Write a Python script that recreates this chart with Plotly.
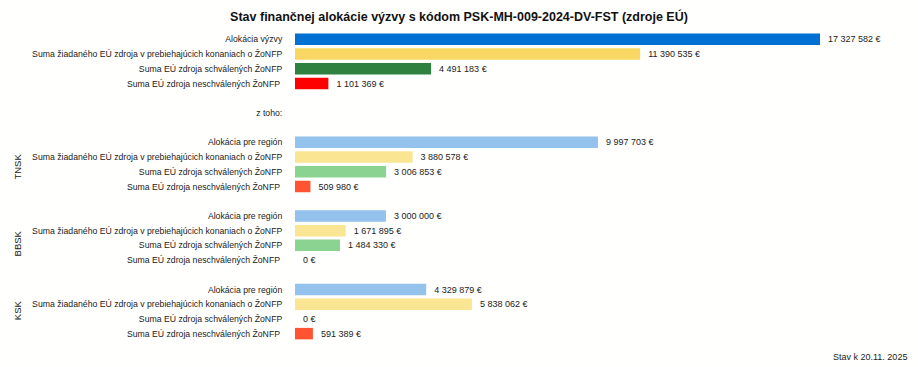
import plotly.graph_objects as go

title = "Stav finančnej alokácie výzvy s kódom PSK-MH-009-2024-DV-FST (zdroje EÚ)"

labels = [
    "Alokácia výzvy",
    "Suma žiadaného EÚ zdroja v prebiehajúcich konaniach o ŽoNFP",
    "Suma EÚ zdroja schválených ŽoNFP",
    "Suma EÚ zdroja neschválených ŽoNFP ",
    "",
    "z toho:",
    " ",
    "Alokácia pre región",
    "Suma žiadaného EÚ zdroja v prebiehajúcich konaniach o ŽoNFP",
    "Suma EÚ zdroja schválených ŽoNFP",
    "Suma EÚ zdroja neschválených ŽoNFP ",
    "  ",
    "Alokácia pre región",
    "Suma žiadaného EÚ zdroja v prebiehajúcich konaniach o ŽoNFP",
    "Suma EÚ zdroja schválených ŽoNFP",
    "Suma EÚ zdroja neschválených ŽoNFP ",
    "   ",
    "Alokácia pre región",
    "Suma žiadaného EÚ zdroja v prebiehajúcich konaniach o ŽoNFP",
    "Suma EÚ zdroja schválených ŽoNFP",
    "Suma EÚ zdroja neschválených ŽoNFP ",
]

values = [
    17327582, 11390535, 4491183, 1101369,
    None, None, None,
    9997703, 3880578, 3006853, 509980,
    None,
    3000000, 1671895, 1484330, 0,
    None,
    4329879, 5838062, 0, 591389,
]

colors = [
    "#0071d3", "#f8d862", "#2f8140", "#ff0000",
    "#ffffff", "#ffffff", "#ffffff",
    "#93c2ec", "#fae593", "#8bd391", "#ff5331",
    "#ffffff",
    "#93c2ec", "#fae593", "#8bd391", "#ff5331",
    "#ffffff",
    "#93c2ec", "#fae593", "#8bd391", "#ff5331",
]

regions = ["TNSK", "BBSK", "KSK"]
region_pos = [8.68, 13.9, 18.44]
footnote = "Stav k 20.11. 2025"


def fmt(v):
    if v is None:
        return ""
    return "  " + f"{v:,}".replace(",", " ") + " €"


FONT = "Liberation Sans, Arial, sans-serif"
rows = list(range(len(labels)))

fig = go.Figure()
fig.add_trace(go.Bar(
    y=rows,
    x=values,
    orientation="h",
    marker=dict(color=colors, line=dict(width=0)),
    text=[fmt(v) for v in values],
    textposition="outside",
    textfont=dict(family=FONT, size=9, color="#222222"),
    cliponaxis=False,
    hoverinfo="skip",
))

for r, p in zip(regions, region_pos):
    fig.add_annotation(
        x=0, xref="paper", xshift=-285, y=p, yref="y",
        text=r, textangle=-90, showarrow=False,
        font=dict(family=FONT, size=9.5, color="#222222"),
    )

fig.add_annotation(
    x=1, xref="paper", xanchor="right", xshift=8,
    y=0, yref="paper", yanchor="top", yshift=-9,
    text=footnote, showarrow=False,
    font=dict(family=FONT, size=9, color="#222222"),
)

fig.update_layout(
    width=918, height=367,
    margin=dict(l=295, r=17, t=32, b=26, autoexpand=False),
    paper_bgcolor="#fffffd",
    plot_bgcolor="#fffffd",
    bargap=0.22,
    showlegend=False,
    title=dict(
        text="<b>" + title + "</b>",
        x=0.5, xanchor="center", y=0.955, yanchor="middle",
        font=dict(family=FONT, size=12.5, color="#111111"),
    ),
    xaxis=dict(range=[0, 20000000], visible=False),
    yaxis=dict(
        tickvals=rows, ticktext=labels,
        range=[len(labels) - 0.5, -0.5],
        showgrid=False, zeroline=False, showline=False,
        automargin=False,
        ticks="outside", ticklen=10, tickcolor="rgba(0,0,0,0)",
        tickfont=dict(family=FONT, size=8.7, color="#222222"),
    ),
)

fig.write_html(
    "out.html",
    config={"displayModeBar": False},
    post_script="document.body.style.margin='0';document.body.style.background='#fffffd';",
)
